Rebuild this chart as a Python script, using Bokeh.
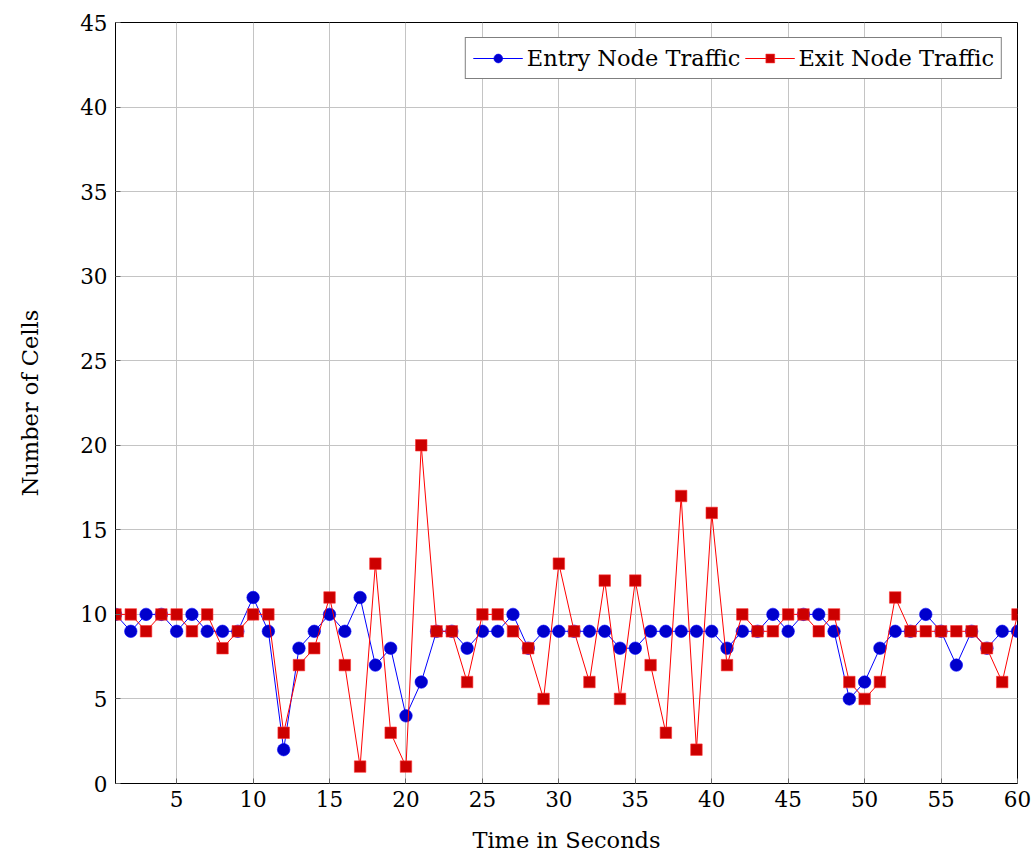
from bokeh.plotting import figure
from bokeh.models import ColumnDataSource, Legend, LegendItem, FixedTicker, Range1d
from bokeh.embed import file_html
from bokeh.resources import INLINE

# Cells observed per second on each side of the circuit
seconds = list(range(1, 61))
entry_cells = [10, 9, 10, 10, 9, 10, 9, 9, 9, 11,
               9, 2, 8, 9, 10, 9, 11, 7, 8, 4,
               6, 9, 9, 8, 9, 9, 10, 8, 9, 9,
               9, 9, 9, 8, 8, 9, 9, 9, 9, 9,
               8, 9, 9, 10, 9, 10, 10, 9, 5, 6,
               8, 9, 9, 10, 9, 7, 9, 8, 9, 9]
exit_cells = [10, 10, 9, 10, 10, 9, 10, 8, 9, 10,
              10, 3, 7, 8, 11, 7, 1, 13, 3, 1,
              20, 9, 9, 6, 10, 10, 9, 8, 5, 13,
              9, 6, 12, 5, 12, 7, 3, 17, 2, 16,
              7, 10, 9, 9, 10, 10, 9, 10, 6, 5,
              6, 11, 9, 9, 9, 9, 9, 8, 6, 10]
x_ticks = [5, 10, 15, 20, 25, 30, 35, 40, 45, 50, 55, 60]
y_ticks = [0, 5, 10, 15, 20, 25, 30, 35, 40, 45]

FONT = "DejaVu Serif"
src = ColumnDataSource(dict(t=seconds, entry=entry_cells, exit=exit_cells))

p = figure(width=1032, height=856, output_backend="svg", toolbar_location=None,
           x_range=Range1d(1, 60), y_range=Range1d(0, 45),
           min_border_left=115, min_border_right=15, min_border_top=22, min_border_bottom=73,
           x_axis_label="Time in Seconds", y_axis_label="Number of Cells")
p.background_fill_color = "white"
p.border_fill_color = "white"
p.outline_line_color = "black"
p.outline_line_width = 1

for g in (p.xgrid, p.ygrid):
    g.grid_line_color = "#c4c4c4"
    g.grid_line_width = 1
p.xgrid.ticker = FixedTicker(ticks=x_ticks)
p.ygrid.ticker = FixedTicker(ticks=y_ticks)

p.xaxis.ticker = FixedTicker(ticks=x_ticks)
p.yaxis.ticker = FixedTicker(ticks=y_ticks)
for ax in (p.xaxis[0], p.yaxis[0]):
    ax.axis_line_color = "black"
    ax.major_tick_in = 5
    ax.major_tick_out = 0
    ax.major_tick_line_color = "#666666"
    ax.minor_tick_line_color = None
    ax.major_label_text_font = FONT
    ax.major_label_text_font_size = "21.5px"
    ax.major_label_text_color = "black"
    ax.axis_label_text_font = FONT
    ax.axis_label_text_font_size = "22.5px"
    ax.axis_label_text_font_style = "normal"
    ax.axis_label_text_color = "black"
p.xaxis.major_label_standoff = 7
p.xaxis.axis_label_standoff = 17
p.yaxis.major_label_standoff = 8
p.yaxis.axis_label_standoff = 34

entry_line = p.line("t", "entry", source=src, line_color="#0000ff", line_width=1)
entry_pts = p.scatter("t", "entry", source=src, marker="circle", size=12.5,
                      fill_color="#0000cc", line_color="#0000ff", line_width=0.6)
exit_line = p.line("t", "exit", source=src, line_color="#ff0000", line_width=1)
exit_pts = p.scatter("t", "exit", source=src, marker="square", size=11.5,
                     fill_color="#cc0000", line_color="#ff3333", line_width=0.6)

legend = Legend(items=[
    LegendItem(label="Entry Node Traffic", renderers=[entry_line, entry_pts]),
    LegendItem(label="Exit Node Traffic", renderers=[exit_line, exit_pts]),
], orientation="horizontal", location="top_right")
legend.label_text_font = FONT
legend.label_text_font_size = "22.5px"
legend.label_text_color = "black"
legend.border_line_color = "black"
legend.border_line_width = 1
legend.background_fill_alpha = 1
legend.glyph_width = 50
legend.glyph_height = 22
legend.label_standoff = 4
legend.spacing = 4
legend.padding = 7
legend.margin = 15
p.add_layout(legend, "center")

open("out.html", "w").write(file_html(p, INLINE))
